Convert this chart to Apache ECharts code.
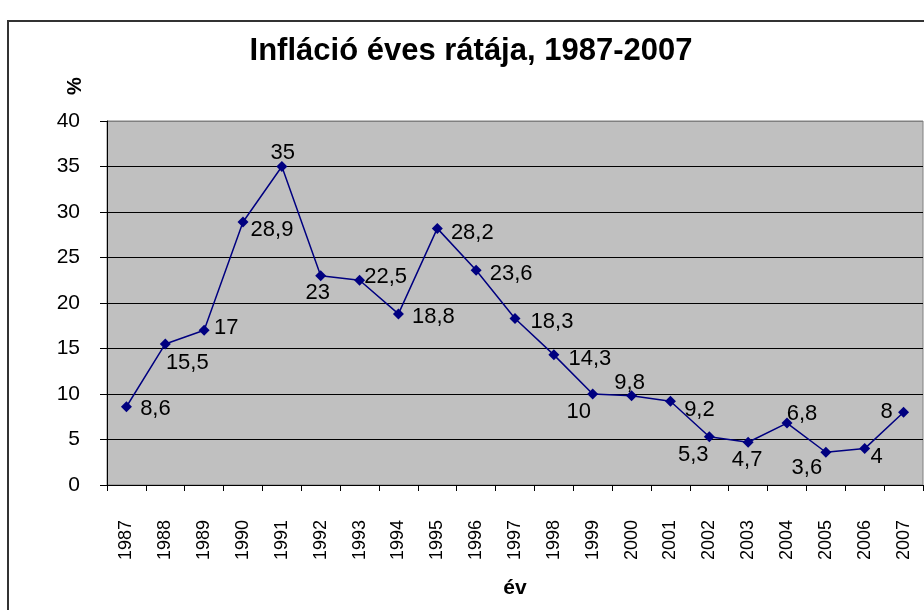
<!DOCTYPE html>
<html>
<head>
<meta charset="utf-8">
<script src="https://cdn.jsdelivr.net/npm/echarts@6/dist/echarts.min.js"></script>
<style>
html,body{margin:0;padding:0;background:#fff;}
#chart{width:924px;height:610px;}
</style>
</head>
<body>
<div id="chart"></div>
<script>
const years = ['1987','1988','1989','1990','1991','1992','1993','1994','1995','1996','1997','1998','1999','2000','2001','2002','2003','2004','2005','2006','2007'];
const inflation = [8.6,15.5,17,28.9,35,23,22.5,18.8,28.2,23.6,18.3,14.3,10,9.8,9.2,5.3,4.7,6.8,3.6,4,8];
const yTicks = {min:0, max:40, interval:5};
const titleText = 'Infláció éves rátája, 1987-2007';
const yName = '%';
const xName = 'év';
// label placement offsets (px) relative to each point
const labelOffsets = [[29,2],[22,19],[22,-2],[29,8],[1,-14],[-3,17],[26,-3],[35,3],[35,5],[35,4],[37,3],[36,4],[-14,18],[-2,-13],[29,9],[-16,18],[-1,18],[15,-9],[-19,16],[12,8],[-17,0]];

const FONT = 'Liberation Sans, Arial, sans-serif';
const chart = echarts.init(document.getElementById('chart'), null, {renderer:'canvas'});

const seriesData = inflation.map((v,i)=>({
  value: v,
  label: {offset: labelOffsets[i]}
}));

const splitColors = [];
for (let v = yTicks.min; v <= yTicks.max; v += yTicks.interval) splitColors.push(v === yTicks.max ? '#808080' : '#000000');

chart.setOption({
  animation: false,
  backgroundColor: '#ffffff',
  title: {
    text: titleText,
    left: 466, top: 31,
    textAlign: 'center',
    textStyle: {fontFamily: FONT, fontSize: 31, fontWeight: 'bold', color: '#000'}
  },
  graphic: [
    {type:'rect', shape:{x:8, y:21, width:1000, height:700}, style:{fill:'none', stroke:'#333', lineWidth:2}, z:100},
    {type:'text', x:75, y:86, rotation:Math.PI/2, style:{text:yName, fontFamily:FONT, fontSize:20, fontWeight:'bold', fill:'#000', align:'center', verticalAlign:'middle'}}
  ],
  grid: {
    left: 107, right: 1, top: 121, bottom: 125,
    show: true, backgroundColor: '#C0C0C0', borderColor: '#808080', borderWidth: 1
  },
  xAxis: {
    type: 'category',
    data: years,
    boundaryGap: true,
    name: xName,
    nameLocation: 'middle',
    nameGap: 93,
    nameTextStyle: {fontFamily: FONT, fontSize: 21, fontWeight: 'bold', color: '#000'},
    axisLine: {lineStyle: {color: '#000', width: 1}},
    axisTick: {show: true, alignWithLabel: false, length: 6, lineStyle: {color: '#000'}},
    axisLabel: {rotate: 90, margin: 35, fontFamily: FONT, fontSize: 18, color: '#000', interval: 0},
    splitLine: {show: false}
  },
  yAxis: {
    type: 'value',
    min: yTicks.min, max: yTicks.max, interval: yTicks.interval,
    axisLine: {show: true, lineStyle: {color: '#000', width: 1}},
    axisTick: {show: true, length: 7, lineStyle: {color: '#000'}},
    axisLabel: {margin: 27, fontFamily: FONT, fontSize: 21, color: '#000'},
    splitLine: {show: true, lineStyle: {color: splitColors, width: 1}}
  },
  series: [{
    type: 'line',
    data: seriesData,
    symbol: 'diamond',
    symbolSize: 11,
    lineStyle: {color: '#000080', width: 1.5},
    itemStyle: {color: '#000080'},
    label: {
      show: true,
      position: 'inside',
      fontFamily: FONT, fontSize: 22, color: '#000',
      formatter: p => String(p.value).replace('.', ',')
    }
  }]
});
</script>
</body>
</html>
